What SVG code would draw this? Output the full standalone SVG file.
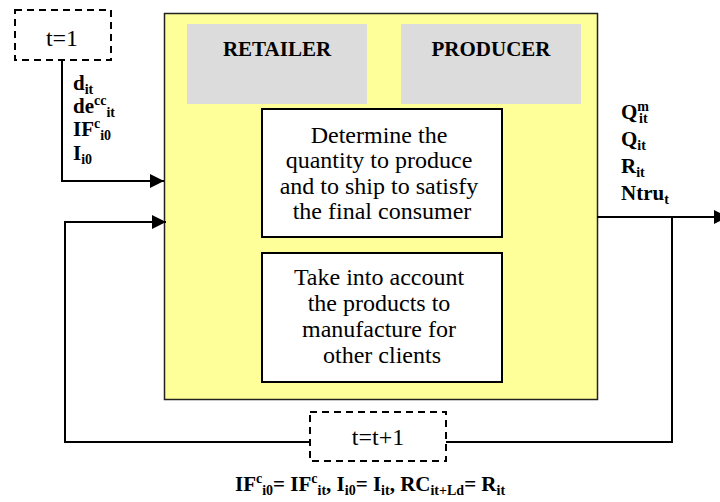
<svg xmlns="http://www.w3.org/2000/svg" width="720" height="502" viewBox="0 0 720 502" font-family="'Liberation Serif', 'Times New Roman', Tinos, 'DejaVu Serif', serif">
<defs>
<marker id="arr" markerUnits="userSpaceOnUse" markerWidth="16" markerHeight="16" refX="14" refY="7" orient="auto">
<path d="M0,0 L14,7 L0,14 Z" fill="#000"/>
</marker>
<style>
text{font-family:'Liberation Serif','Times New Roman',Tinos,'DejaVu Serif',serif;fill:#000}
.reg{font-size:24px}
.bold{font-size:21px;font-weight:bold}
.s{font-size:14px}
.line{fill:none;stroke:#000;stroke-width:2}
.dash{fill:#fff;stroke:#000;stroke-width:2;stroke-dasharray:7,5}
.box{fill:#fff;stroke:#000;stroke-width:2}
.gray{fill:#dcdcdc;stroke:none}
</style>
</defs>
<rect width="720" height="502" fill="#fff"/>

<g id="main">
<rect x="164.5" y="13.5" width="433" height="386" fill="#ffff99" stroke="#222" stroke-width="1.5"/>
</g>
<g id="retailer">
<rect class="gray" x="187" y="24" width="180" height="80"/>
<text class="bold" x="277" y="56" text-anchor="middle">RETAILER</text>
</g>
<g id="producer">
<rect class="gray" x="401" y="24" width="180" height="80"/>
<text class="bold" x="491" y="56" text-anchor="middle">PRODUCER</text>
</g>
<g id="determine">
<rect class="box" x="262" y="109" width="240" height="128"/>
<text class="reg" text-anchor="middle">
<tspan x="382" y="143">Determine the</tspan>
<tspan x="382" y="168">quantity to produce</tspan>
<tspan x="382" y="194">and to ship to satisfy</tspan>
<tspan x="382" y="219">the final consumer</tspan>
</text>
</g>
<g id="account">
<rect class="box" x="262" y="253" width="240" height="129"/>
<text class="reg" text-anchor="middle">
<tspan x="382" y="285">Take into account</tspan>
<tspan x="382" y="311">the products to</tspan>
<tspan x="382" y="337">manufacture for</tspan>
<tspan x="382" y="363">other clients</tspan>
</text>
</g>

<g id="connectors">
<path class="line" d="M62,60 V181 H164" marker-end="url(#arr)"/>
<path class="line" d="M310,442 H65 V222 H166" marker-end="url(#arr)"/>
<path class="line" d="M597,217 H728" marker-end="url(#arr)"/>
<path class="line" d="M672,217 V442 H446"/>
</g>

<g id="t1">
<rect class="dash" x="15" y="10" width="96" height="50"/>
<text class="reg" x="62" y="46" text-anchor="middle">t=1</text>
</g>
<g id="tt1">
<rect class="dash" x="310" y="412" width="136" height="49"/>
<text class="reg" x="378" y="445" text-anchor="middle">t=t+1</text>
</g>

<g id="inputs">
<text class="bold" x="73" y="90">d<tspan class="s" dy="4">it</tspan></text>
<text class="bold" x="73" y="113">de<tspan class="s" dy="-8">cc</tspan><tspan class="s" dy="12">it</tspan></text>
<text class="bold" x="73" y="136">IF<tspan class="s" dy="-8">c</tspan><tspan class="s" dy="12">i0</tspan></text>
<text class="bold" x="73" y="160">I<tspan class="s" dy="4">i0</tspan></text>
</g>
<g id="outputs">
<text class="bold" x="621" y="119">Q<tspan class="s" dy="-8">m</tspan><tspan class="s" dx="-10" dy="12">it</tspan></text>
<text class="bold" x="621" y="146">Q<tspan class="s" dy="4">it</tspan></text>
<text class="bold" x="621" y="173">R<tspan class="s" dy="4">it</tspan></text>
<text class="bold" x="621" y="200">Ntru<tspan class="s" dy="4">t</tspan></text>
</g>
<g id="update">
<text class="bold" x="235" y="491">IF<tspan class="s" dy="-8">c</tspan><tspan class="s" dy="12">i0</tspan><tspan dy="-4">= IF</tspan><tspan class="s" dy="-8">c</tspan><tspan class="s" dy="12">it</tspan><tspan dy="-4">, I</tspan><tspan class="s" dy="4">i0</tspan><tspan dy="-4">= I</tspan><tspan class="s" dy="4">it</tspan><tspan dy="-4">, RC</tspan><tspan class="s" dy="4">it+Ld</tspan><tspan dy="-4">= R</tspan><tspan class="s" dy="4">it</tspan></text>
</g>
</svg>
